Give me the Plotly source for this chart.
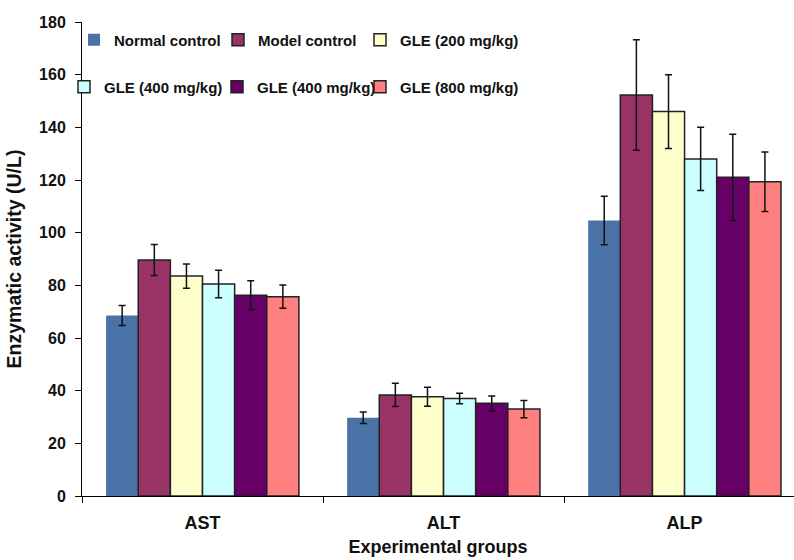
import plotly.graph_objects as go

categories = ["AST", "ALT", "ALP"]
series_names = ["Normal control", "Model control", "GLE (200 mg/kg)",
                "GLE (400 mg/kg)", "GLE (400 mg/kg)", "GLE (800 mg/kg)"]
normal_control = [68.5, 29.7, 104.6]
model_control = [89.6, 38.4, 152.3]
gle_200 = [83.5, 37.7, 146.0]
gle_400a = [80.5, 37.0, 128.0]
gle_400b = [76.2, 35.2, 121.0]
gle_800 = [75.7, 33.0, 119.3]

err_normal = [3.8, 2.2, 9.2]
err_model = [5.9, 4.4, 21.0]
err_200 = [4.6, 3.6, 14.0]
err_400a = [5.2, 2.0, 12.0]
err_400b = [5.5, 2.8, 16.4]
err_800 = [4.4, 3.3, 11.3]

y_ticks = [0, 20, 40, 60, 80, 100, 120, 140, 160, 180]

values = [normal_control, model_control, gle_200, gle_400a, gle_400b, gle_800]
errors = [err_normal, err_model, err_200, err_400a, err_400b, err_800]
colors = ["#4A72A6", "#993366", "#FFFFCC", "#CCFFFF", "#660066", "#FF8080"]
line_w = [0, 1.5, 1.5, 1.5, 1.5, 1.5]

# legend entry layout (text left edge in px, row centre in px)
legend_text_x = [114, 258, 400, 104, 257, 400]
legend_row_y = [40, 40, 40, 87, 87, 87]

FONT = "Liberation Sans, Arial, sans-serif"
PLOT_L, PLOT_W, PLOT_B, PLOT_H = 82, 712, 496, 474

fig = go.Figure()
legend_layouts = {}
for i, (name, v, e, c, lw) in enumerate(zip(series_names, values, errors, colors, line_w)):
    lg = "legend" if i == 0 else f"legend{i + 1}"
    fig.add_trace(go.Bar(
        x=categories, y=v, name=name,
        marker=dict(color=c, line=dict(color="#222222", width=lw)),
        error_y=dict(type="data", array=e, visible=True, color="#111111",
                     thickness=1.5, width=3.5),
        legend=lg,
    ))
    legend_layouts[lg] = dict(
        orientation="h", xanchor="left", yanchor="middle",
        x=(legend_text_x[i] - 40 - PLOT_L) / PLOT_W,
        y=(PLOT_B - legend_row_y[i]) / PLOT_H,
        font=dict(family=FONT, size=15, color="#111111", weight="bold"),
        bgcolor="rgba(0,0,0,0)", itemwidth=30,
    )

fig.update_layout(
    width=794, height=560,
    margin=dict(l=82, r=0, t=22, b=64, autoexpand=False),
    paper_bgcolor="white", plot_bgcolor="white",
    barmode="group", bargap=0.2, bargroupgap=0,
    showlegend=True,
    xaxis=dict(
        type="category", range=[-0.5, 2.454],
        showline=True, linecolor="black", linewidth=1,
        ticks="outside", tickson="boundaries", ticklen=6, tickcolor="black",
        ticklabelstandoff=10,
        tickfont=dict(family=FONT, size=18, color="#111111", weight="bold"),
        title=dict(text="Experimental groups", standoff=8,
                   font=dict(family=FONT, size=18, color="#111111", weight="bold")),
        showgrid=False,
    ),
    yaxis=dict(
        range=[0, 180], tickvals=y_ticks, showline=True, linecolor="black",
        linewidth=1, ticks="outside", ticklen=6, tickcolor="black",
        ticklabelstandoff=6,
        tickfont=dict(family=FONT, size=16, color="#111111", weight="bold"),
        title=dict(text="Enzymatic activity (U/L)", standoff=12,
                   font=dict(family=FONT, size=19.5, color="#111111", weight="bold")),
        showgrid=False, zeroline=False,
    ),
    **legend_layouts,
)

fig.write_html("out.html")
